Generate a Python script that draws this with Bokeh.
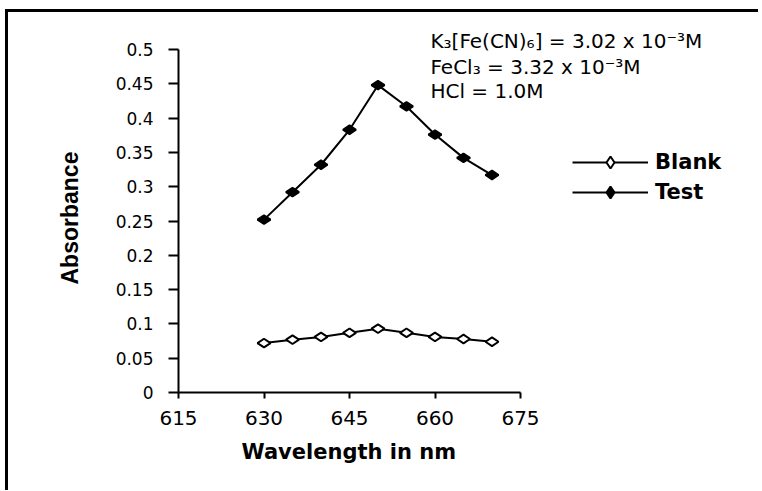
import math
from bokeh.plotting import figure
from bokeh.models import Range1d, FixedTicker, Legend, LegendItem, Label, Title
from bokeh.embed import file_html
from bokeh.resources import INLINE

# ---- data ----
wavelength = [630, 635, 640, 645, 650, 655, 660, 665, 670]
blank = [0.072, 0.077, 0.081, 0.087, 0.093, 0.087, 0.081, 0.078, 0.074]
test = [0.252, 0.292, 0.332, 0.383, 0.448, 0.417, 0.376, 0.342, 0.317]
x_ticks = [615, 630, 645, 660, 675]
y_ticks = [0, 0.05, 0.1, 0.15, 0.2, 0.25, 0.3, 0.35, 0.4, 0.45, 0.5]
y_tick_labels = ["0", "0.05", "0.1", "0.15", "0.2", "0.25", "0.3", "0.35", "0.4", "0.45", "0.5"]
notes = ["K\u2083[Fe(CN)\u2086] = 3.02 x 10\u207b\u00b3M",
         "FeCl\u2083 = 3.32 x 10\u207b\u00b3M",
         "HCl = 1.0M"]
x_title = "Wavelength in nm"
y_title = "Absorbance"

# frame is wider/taller than the drawn axes so that notes and legend fit inside
p = figure(frame_width=570, frame_height=370,
           min_border_left=170, min_border_right=10,
           min_border_top=10, min_border_bottom=98,
           x_range=Range1d(615, 715), y_range=Range1d(0, 0.5 * 370 / 343),
           output_backend="svg", toolbar_location=None,
           styles={"border-top": "3px solid black", "border-left": "3px solid black",
                   "margin-top": "9px", "margin-left": "5px"})

p.outline_line_color = None
p.xgrid.visible = False
p.ygrid.visible = False
p.background_fill_color = "white"
p.border_fill_color = "white"

# axes
p.xaxis.ticker = FixedTicker(ticks=x_ticks)
p.yaxis.ticker = FixedTicker(ticks=y_ticks)
p.xaxis.bounds = (x_ticks[0], x_ticks[-1])
p.yaxis.bounds = (y_ticks[0], y_ticks[-1])
p.yaxis.major_label_overrides = {t: l for t, l in zip(y_ticks, y_tick_labels)}
for ax in (p.xaxis, p.yaxis):
    ax.axis_line_color = "black"
    ax.axis_line_width = 2
    ax.major_tick_line_color = "black"
    ax.major_tick_line_width = 2
    ax.major_tick_in = 0
    ax.minor_tick_line_color = None
    ax.major_label_text_color = "black"
    ax.major_label_text_font = "DejaVu Sans"

p.xaxis.major_tick_out = 6
p.xaxis.major_label_text_font_size = "20px"
p.xaxis.major_label_standoff = 12

p.yaxis.major_tick_out = 10
p.yaxis.major_label_text_font_size = "17px"
p.yaxis.major_label_standoff = 15

# axis titles, centred on the drawn axes (not the wider frame)
p.add_layout(Title(text=x_title, align="left", offset=63, standoff=20,
                   text_font="DejaVu Sans", text_font_style="bold",
                   text_font_size="21px", text_color="black"), "below")
p.add_layout(Title(text=y_title, align="left", offset=108, standoff=60,
                   text_font="Liberation Sans", text_font_style="bold",
                   text_font_size="23px", text_color="black"), "left")

# series
bl = p.line(wavelength, blank, line_color="black", line_width=2)
bm = p.scatter(wavelength, blank, marker="diamond", size=13, angle=math.pi / 2,
               fill_color="white", line_color="black", line_width=2)
tl = p.line(wavelength, test, line_color="black", line_width=2)
tm = p.scatter(wavelength, test, marker="diamond", size=13, angle=math.pi / 2,
               fill_color="black", line_color="black", line_width=2)

legend = Legend(items=[LegendItem(label="Blank", renderers=[bl, bm]),
                       LegendItem(label="Test", renderers=[tl, tm])],
                location=(394, 185), orientation="vertical",
                glyph_width=76, glyph_height=30, label_height=30, spacing=0,
                label_standoff=7, padding=0, margin=0,
                border_line_color=None, background_fill_alpha=0,
                label_text_font="DejaVu Sans", label_text_font_style="bold",
                label_text_font_size="21px", label_text_color="black")
p.add_layout(legend, "center")

# annotation text
note_y = [0.513, 0.475, 0.439]
for txt, yy in zip(notes, note_y):
    p.add_layout(Label(x=659.2, y=yy, text=txt, text_font="DejaVu Sans",
                       text_font_size="20px", text_color="black",
                       text_baseline="middle", text_align="left"))

open("out.html", "w").write(file_html(p, INLINE))
